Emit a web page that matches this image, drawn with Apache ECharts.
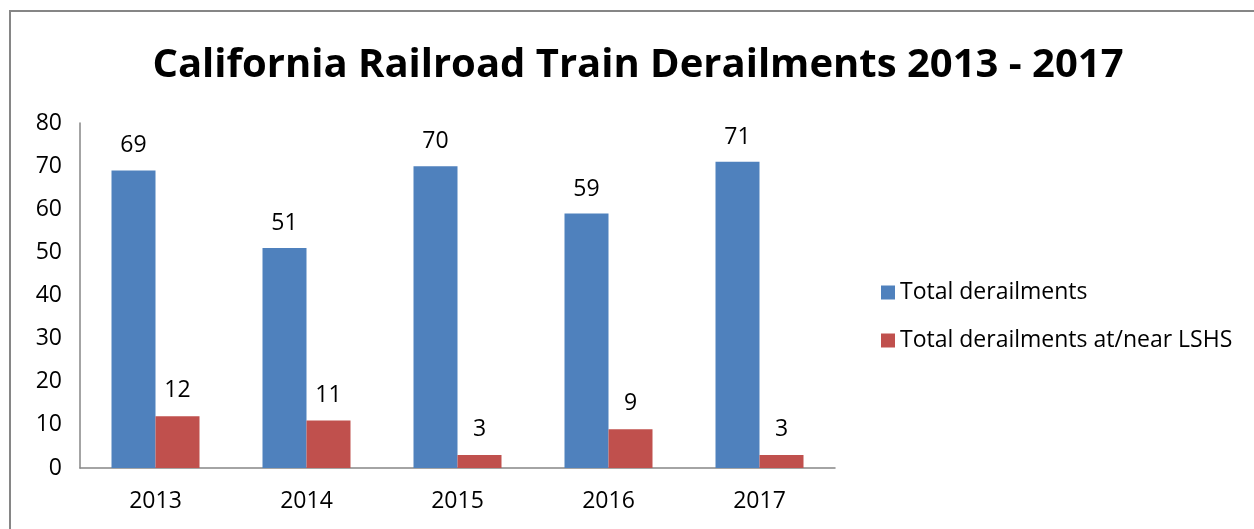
<!DOCTYPE html>
<html>
<head>
<meta charset="utf-8">
<script src="https://cdn.jsdelivr.net/npm/echarts@6/dist/echarts.min.js"></script>
<style>
  html, body { margin: 0; padding: 0; background: #fff; }
  #chart { width: 1254px; height: 529px; }
</style>
</head>
<body>
<div id="chart"></div>
<script>
  const years = ['2013', '2014', '2015', '2016', '2017'];
  const totalDerailments = [69, 51, 70, 59, 71];
  const lshsDerailments = [12, 11, 3, 9, 3];
  const yTicks = [0, 80, 10]; // min, max, step

  const font = '"Open Sans", sans-serif';

  const chart = echarts.init(document.getElementById('chart'));
  chart.setOption({
    animation: false,
    textStyle: { fontFamily: font },
    graphic: [{
      type: 'rect',
      shape: { x: 10, y: 11, width: 1400, height: 700 },
      style: { fill: 'none', stroke: '#868686', lineWidth: 2 },
      silent: true
    }],
    title: {
      text: 'California Railroad Train Derailments 2013 - 2017',
      left: 633,
      textAlign: 'center',
      top: 41,
      textStyle: { fontFamily: font, fontSize: 40, fontWeight: 'bold', color: '#000' }
    },
    legend: {
      orient: 'vertical',
      left: 876,
      top: 276,
      itemWidth: 14,
      itemHeight: 14,
      itemGap: 25,
      icon: 'rect',
      textStyle: { fontFamily: font, fontSize: 23, color: '#000' },
      data: ['Total derailments', 'Total derailments at/near LSHS']
    },
    grid: { left: 80, right: 419, top: 123, bottom: 61 },
    xAxis: {
      type: 'category',
      data: years,
      axisLine: { lineStyle: { color: '#868686', width: 1.5 } },
      axisTick: { show: false },
      axisLabel: { color: '#000', fontSize: 23, margin: 22, fontFamily: font }
    },
    yAxis: {
      type: 'value',
      min: yTicks[0],
      max: yTicks[1],
      interval: yTicks[2],
      axisLine: { show: true, lineStyle: { color: '#868686', width: 1.5 } },
      axisTick: { show: false },
      splitLine: { show: false },
      axisLabel: { color: '#000', fontSize: 23, margin: 18, fontFamily: font }
    },
    series: [
      {
        name: 'Total derailments',
        type: 'bar',
        data: totalDerailments,
        barWidth: 44,
        barGap: '0%',
        itemStyle: { color: '#4F81BD' },
        label: { show: true, position: 'top', distance: 13, color: '#000', fontSize: 23, fontFamily: font }
      },
      {
        name: 'Total derailments at/near LSHS',
        type: 'bar',
        data: lshsDerailments,
        barWidth: 44,
        barGap: '0%',
        itemStyle: { color: '#C0504D' },
        label: { show: true, position: 'top', distance: 14, color: '#000', fontSize: 23, fontFamily: font }
      }
    ]
  });
</script>
</body>
</html>
